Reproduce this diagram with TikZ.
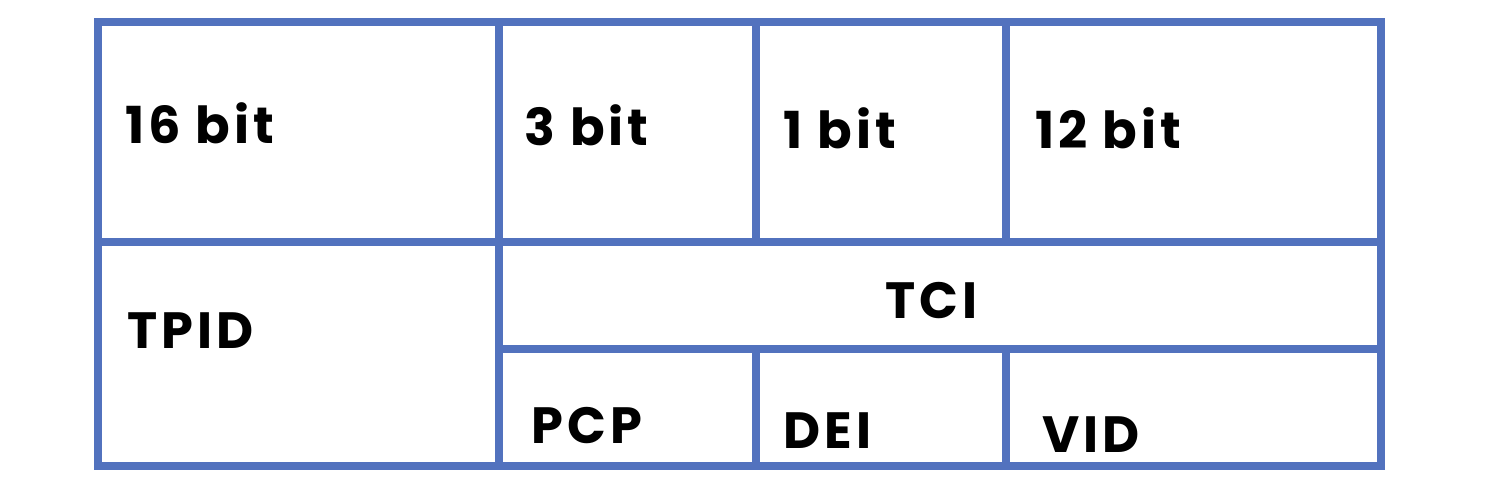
\documentclass[tikz,border=0pt]{standalone}
\usepackage{fontspec}
\setmainfont{Poppins}[LetterSpace=8]
\definecolor{gridblue}{RGB}{82,114,190}
\tikzset{
  gridline/.style={draw=gridblue,line width=4pt,line cap=rect},
  lbl/.style={anchor=base west,inner sep=0pt,font=\fontsize{25.5}{30}\selectfont\bfseries,text=black}
}
\begin{document}
\begin{tikzpicture}[x=0.5pt,y=-0.5pt]
\useasboundingbox (0,0) rectangle (1504,494);
% grid
\coordinate (tl) at (98,22);
\coordinate (br) at (1381,466);
\draw[gridline] (tl) rectangle (br);
\draw[gridline] (98,242) -- (1381,242);
\draw[gridline] (499,22) -- (499,466);
\draw[gridline] (756,22) -- (756,242);
\draw[gridline] (1006,22) -- (1006,242);
\draw[gridline] (499,349) -- (1381,349);
\draw[gridline] (756,349) -- (756,466);
\draw[gridline] (1006,349) -- (1006,466);
% labels
\node[lbl] (b16) at (125,143) {16 bit};
\node[lbl] (b3) at (524,145) {3 bit};
\node[lbl] (b1) at (783,148) {1 bit};
\node[lbl] (b12) at (1035,148) {12 bit};
\node[lbl] (tpid) at (127,348) {TPID};
\node[lbl] (tci) at (885,318) {TCI};
\node[lbl] (pcp) at (531,443) {PCP};
\node[lbl] (dei) at (783,448) {DEI};
\node[lbl] (vid) at (1042,452) {VID};
\end{tikzpicture}
\end{document}
